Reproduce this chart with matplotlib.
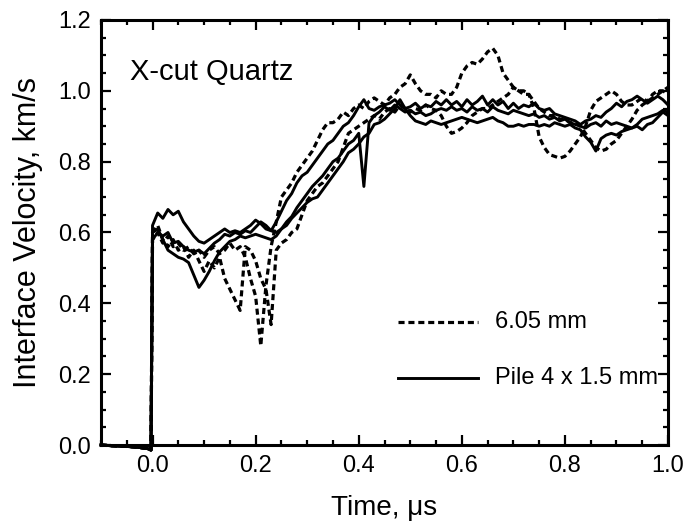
import numpy as np
import matplotlib
matplotlib.use("Agg")
import matplotlib.pyplot as plt
from matplotlib.ticker import MultipleLocator

plt.rcParams['font.family'] = ['Liberation Sans', 'DejaVu Sans']

# pre-trigger baseline (all records overlap here)
pre_time = [-0.10, -0.08, -0.05, -0.03, -0.01, -0.003]
pre_vel = [0.0, -0.002, -0.004, -0.006, -0.010, -0.014]

# sampling times, microseconds
time_us = [
    0.00, 0.01, 0.02, 0.03, 0.04, 0.05, 0.06, 0.07, 0.08, 0.09,
    0.10, 0.11, 0.12, 0.13, 0.14, 0.15, 0.16, 0.17, 0.18, 0.19,
    0.20, 0.21, 0.22, 0.23, 0.24, 0.25, 0.26, 0.27, 0.28, 0.29,
    0.30, 0.31, 0.32, 0.33, 0.34, 0.35, 0.36, 0.37, 0.38, 0.39,
    0.40, 0.41, 0.42, 0.43, 0.44, 0.45, 0.46, 0.47, 0.48, 0.49,
    0.50, 0.51, 0.52, 0.53, 0.54, 0.55, 0.56, 0.57, 0.58, 0.59,
    0.60, 0.61, 0.62, 0.63, 0.64, 0.65, 0.66, 0.67, 0.68, 0.69,
    0.70, 0.71, 0.72, 0.73, 0.74, 0.75, 0.76, 0.77, 0.78, 0.79,
    0.80, 0.81, 0.82, 0.83, 0.84, 0.85, 0.86, 0.87, 0.88, 0.89,
    0.90, 0.91, 0.92, 0.93, 0.94, 0.95, 0.96, 0.97, 0.98, 0.99,
    1.00]

# 6.05 mm records (dashed)
mm605_a = [
    0.58, 0.60, 0.57, 0.59, 0.56, 0.57, 0.55, 0.56, 0.54, 0.55,
    0.53, 0.55, 0.56, 0.54, 0.55, 0.57, 0.55, 0.56, 0.53, 0.47,
    0.42, 0.28, 0.45, 0.56, 0.63, 0.70, 0.72, 0.74, 0.77, 0.79,
    0.81, 0.83, 0.86, 0.89, 0.91, 0.91, 0.92, 0.94, 0.93, 0.95,
    0.96, 0.95, 0.97, 0.98, 0.97, 0.96, 0.98, 0.99, 1.01, 1.02,
    1.045, 1.02, 1.00, 0.99, 0.99, 0.98, 1.00, 0.99, 0.99, 1.01,
    1.05, 1.07, 1.08, 1.075, 1.09, 1.11, 1.12, 1.10, 1.05, 1.03,
    1.01, 1.00, 0.99, 0.99, 0.95, 0.87, 0.84, 0.82, 0.815, 0.81,
    0.815, 0.83, 0.85, 0.87, 0.90, 0.945, 0.97, 0.98, 0.99, 1.00,
    0.99, 0.97, 0.96, 0.96, 0.97, 0.98, 0.97, 0.99, 1.00, 1.00,
    0.99]
mm605_b = [
    0.60, 0.62, 0.58, 0.56, 0.58, 0.55, 0.56, 0.53, 0.55, 0.52,
    0.49, 0.52, 0.50, 0.53, 0.47, 0.44, 0.41, 0.38, 0.56, 0.55,
    0.52, 0.47, 0.44, 0.34, 0.55, 0.57, 0.58, 0.60, 0.61, 0.65,
    0.69, 0.71, 0.73, 0.74, 0.76, 0.78, 0.80, 0.84, 0.88, 0.89,
    0.90, 0.91, 0.92, 0.93, 0.92, 0.94, 0.95, 0.94, 0.96, 0.95,
    0.94, 0.95, 0.945, 0.96, 0.95, 0.945, 0.93, 0.90, 0.88, 0.885,
    0.895, 0.91, 0.93, 0.94, 0.95, 0.95, 0.96, 0.97, 0.98, 0.99,
    1.01, 1.00, 1.00, 0.99, 0.97, 0.95, 0.94, 0.93, 0.93, 0.92,
    0.92, 0.91, 0.91, 0.90, 0.88, 0.86, 0.84, 0.83, 0.835, 0.85,
    0.86, 0.88, 0.90, 0.92, 0.945, 0.96, 0.97, 0.98, 0.99, 1.00,
    1.01]

# Pile 4 x 1.5 mm records (solid)
pile_a = [
    0.62, 0.655, 0.64, 0.665, 0.65, 0.66, 0.63, 0.61, 0.59, 0.575,
    0.57, 0.58, 0.59, 0.60, 0.61, 0.60, 0.605, 0.60, 0.61, 0.62,
    0.635, 0.625, 0.61, 0.605, 0.63, 0.66, 0.69, 0.71, 0.74, 0.76,
    0.77, 0.79, 0.81, 0.83, 0.85, 0.86, 0.88, 0.90, 0.91, 0.93,
    0.955, 0.975, 0.95, 0.945, 0.955, 0.96, 0.965, 0.975, 0.96, 0.95,
    0.955, 0.965, 0.95, 0.96, 0.955, 0.97, 0.96, 0.975, 0.96, 0.97,
    0.955, 0.975, 0.96, 0.97, 0.985, 0.96, 0.975, 0.96, 0.97, 0.95,
    0.965, 0.95, 0.96, 0.955, 0.965, 0.95, 0.945, 0.95, 0.935, 0.93,
    0.925, 0.92, 0.915, 0.905, 0.915, 0.92, 0.93, 0.925, 0.94, 0.95,
    0.965, 0.955, 0.97, 0.975, 0.985, 0.975, 0.965, 0.975, 0.985, 0.975,
    0.96]
pile_b = [
    0.60, 0.61, 0.58, 0.55, 0.54, 0.53, 0.525, 0.515, 0.48, 0.445,
    0.465, 0.49, 0.52, 0.545, 0.56, 0.575, 0.58, 0.59, 0.585, 0.59,
    0.595, 0.59, 0.585, 0.58, 0.59, 0.61, 0.63, 0.645, 0.67, 0.69,
    0.71, 0.73, 0.745, 0.76, 0.78, 0.80, 0.81, 0.83, 0.85, 0.86,
    0.88, 0.73, 0.91, 0.93, 0.94, 0.955, 0.945, 0.96, 0.95, 0.94,
    0.945, 0.935, 0.94, 0.93, 0.935, 0.945, 0.95, 0.945, 0.955, 0.945,
    0.95, 0.94, 0.955, 0.945, 0.95, 0.94, 0.955, 0.945, 0.94, 0.935,
    0.945, 0.94, 0.935, 0.93, 0.935, 0.925, 0.93, 0.92, 0.925, 0.915,
    0.92, 0.91, 0.905, 0.90, 0.895, 0.905, 0.91, 0.90, 0.915, 0.905,
    0.91, 0.905, 0.90, 0.895, 0.90, 0.89, 0.905, 0.91, 0.925, 0.94,
    0.93]
pile_c = [
    0.58, 0.60, 0.59, 0.60, 0.57, 0.575, 0.56, 0.55, 0.545, 0.55,
    0.54, 0.555, 0.57, 0.58, 0.595, 0.59, 0.60, 0.595, 0.605, 0.60,
    0.615, 0.63, 0.62, 0.605, 0.60, 0.61, 0.62, 0.64, 0.655, 0.67,
    0.685, 0.695, 0.70, 0.72, 0.74, 0.76, 0.78, 0.80, 0.825, 0.835,
    0.85, 0.87, 0.88, 0.905, 0.91, 0.92, 0.935, 0.95, 0.975, 0.95,
    0.93, 0.915, 0.91, 0.905, 0.915, 0.91, 0.905, 0.91, 0.915, 0.92,
    0.925, 0.92, 0.915, 0.91, 0.915, 0.92, 0.925, 0.915, 0.91, 0.90,
    0.90, 0.905, 0.90, 0.905, 0.905, 0.90, 0.905, 0.90, 0.91, 0.905,
    0.90, 0.905, 0.895, 0.89, 0.87, 0.855, 0.83, 0.865, 0.875, 0.88,
    0.875, 0.885, 0.89, 0.895, 0.905, 0.92, 0.925, 0.93, 0.935, 0.945,
    0.94]

dashed_runs = [mm605_a, mm605_b]
solid_runs = [pile_a, pile_b, pile_c]
dash_style = (0, (1.9, 1.2))

fig = plt.figure(figsize=(6.86, 5.23), dpi=100)
ax = fig.add_axes([0.1472, 0.1491, 0.8266, 0.8127])

for run in dashed_runs:
    ax.plot(pre_time + time_us, pre_vel + run, color='black', lw=2.3,
            linestyle=dash_style, clip_on=False)
for run in solid_runs:
    ax.plot(pre_time + time_us, pre_vel + run, color='black', lw=2.1,
            clip_on=False)

ax.set_xlim(-0.1, 1.0)
ax.set_ylim(0.0, 1.2)
ax.xaxis.set_major_locator(MultipleLocator(0.2))
ax.xaxis.set_minor_locator(MultipleLocator(0.05))
ax.yaxis.set_major_locator(MultipleLocator(0.2))
ax.yaxis.set_minor_locator(MultipleLocator(0.05))
ax.xaxis.set_major_formatter(plt.FormatStrFormatter('%.1f'))
ax.yaxis.set_major_formatter(plt.FormatStrFormatter('%.1f'))

ax.tick_params(which='both', direction='in', top=True, right=True, width=1.6,
               labelsize=17, pad=7)
ax.tick_params(which='major', length=7.5)
ax.tick_params(which='minor', length=3.8)
for s in ax.spines.values():
    s.set_linewidth(2.2)

ax.set_xlabel('Time, μs', fontsize=20, labelpad=13)
ax.set_ylabel('Interface Velocity, km/s', fontsize=22, labelpad=11)

ax.text(0.051, 0.859, 'X-cut Quartz', transform=ax.transAxes, fontsize=21,
        va='baseline')

# hand-made legend
ax.plot([0.524, 0.665], [0.289, 0.289], transform=ax.transAxes, color='black',
        lw=2.3, linestyle=dash_style)
ax.plot([0.524, 0.665], [0.158, 0.158], transform=ax.transAxes, color='black',
        lw=2.1)
ax.text(0.695, 0.289, '6.05 mm', transform=ax.transAxes, fontsize=17,
        va='center')
ax.text(0.695, 0.158, 'Pile 4 x 1.5 mm', transform=ax.transAxes, fontsize=17,
        va='center')

fig.savefig('out.png', dpi=100)
